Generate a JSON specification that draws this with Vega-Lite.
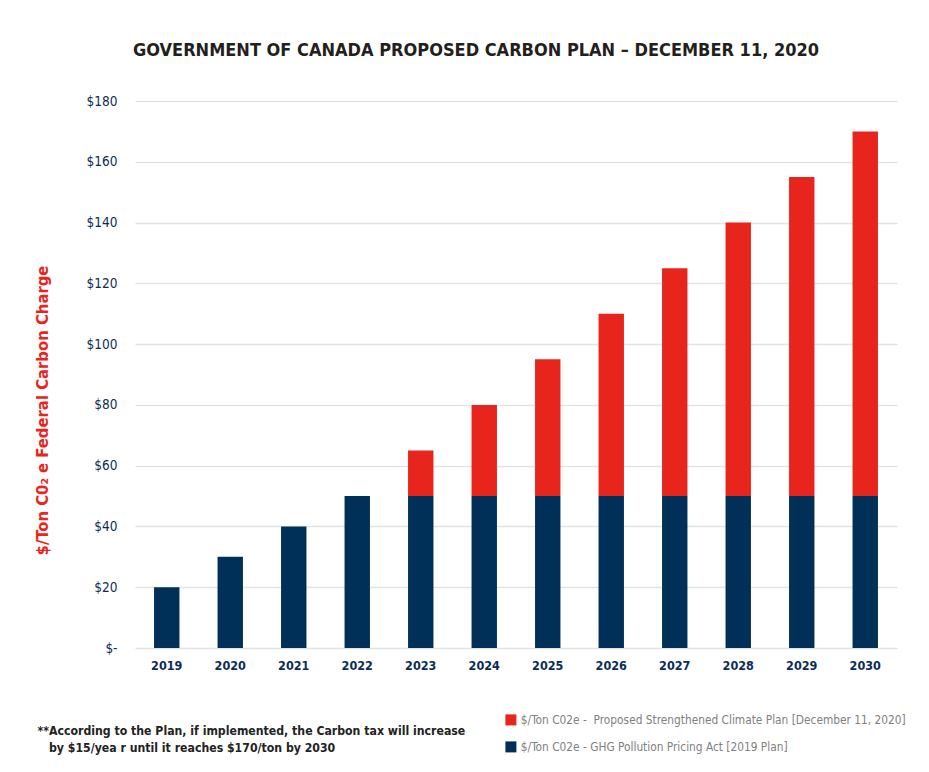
{
  "$schema": "https://vega.github.io/schema/vega-lite/v6.json",
  "autosize": {"type": "none"},
  "width": 762,
  "height": 547,
  "padding": {"left": 135, "top": 101, "right": 32, "bottom": 124},
  "background": "white",
  "config": {
    "view": {"stroke": null},
    "font": "DejaVu Sans Condensed, sans-serif"
  },
  "title": {
    "text": "GOVERNMENT OF CANADA PROPOSED CARBON PLAN – DECEMBER 11, 2020",
    "anchor": "middle",
    "dx": -40,
    "offset": 34,
    "fontSize": 18,
    "fontWeight": "bold",
    "color": "#231f20",
    "font": "DejaVu Sans Condensed, sans-serif"
  },
  "data": {
    "values": [
      {"year": "2019", "series": "$/Ton C02e - GHG Pollution Pricing Act [2019 Plan]", "ord": 0, "value": 20},
      {"year": "2020", "series": "$/Ton C02e - GHG Pollution Pricing Act [2019 Plan]", "ord": 0, "value": 30},
      {"year": "2021", "series": "$/Ton C02e - GHG Pollution Pricing Act [2019 Plan]", "ord": 0, "value": 40},
      {"year": "2022", "series": "$/Ton C02e - GHG Pollution Pricing Act [2019 Plan]", "ord": 0, "value": 50},
      {"year": "2023", "series": "$/Ton C02e - GHG Pollution Pricing Act [2019 Plan]", "ord": 0, "value": 50},
      {"year": "2024", "series": "$/Ton C02e - GHG Pollution Pricing Act [2019 Plan]", "ord": 0, "value": 50},
      {"year": "2025", "series": "$/Ton C02e - GHG Pollution Pricing Act [2019 Plan]", "ord": 0, "value": 50},
      {"year": "2026", "series": "$/Ton C02e - GHG Pollution Pricing Act [2019 Plan]", "ord": 0, "value": 50},
      {"year": "2027", "series": "$/Ton C02e - GHG Pollution Pricing Act [2019 Plan]", "ord": 0, "value": 50},
      {"year": "2028", "series": "$/Ton C02e - GHG Pollution Pricing Act [2019 Plan]", "ord": 0, "value": 50},
      {"year": "2029", "series": "$/Ton C02e - GHG Pollution Pricing Act [2019 Plan]", "ord": 0, "value": 50},
      {"year": "2030", "series": "$/Ton C02e - GHG Pollution Pricing Act [2019 Plan]", "ord": 0, "value": 50},
      {"year": "2023", "series": "$/Ton C02e -\u00a0 Proposed Strengthened Climate Plan [December 11, 2020]", "ord": 1, "value": 15},
      {"year": "2024", "series": "$/Ton C02e -\u00a0 Proposed Strengthened Climate Plan [December 11, 2020]", "ord": 1, "value": 30},
      {"year": "2025", "series": "$/Ton C02e -\u00a0 Proposed Strengthened Climate Plan [December 11, 2020]", "ord": 1, "value": 45},
      {"year": "2026", "series": "$/Ton C02e -\u00a0 Proposed Strengthened Climate Plan [December 11, 2020]", "ord": 1, "value": 60},
      {"year": "2027", "series": "$/Ton C02e -\u00a0 Proposed Strengthened Climate Plan [December 11, 2020]", "ord": 1, "value": 75},
      {"year": "2028", "series": "$/Ton C02e -\u00a0 Proposed Strengthened Climate Plan [December 11, 2020]", "ord": 1, "value": 90},
      {"year": "2029", "series": "$/Ton C02e -\u00a0 Proposed Strengthened Climate Plan [December 11, 2020]", "ord": 1, "value": 105},
      {"year": "2030", "series": "$/Ton C02e -\u00a0 Proposed Strengthened Climate Plan [December 11, 2020]", "ord": 1, "value": 120}
    ]
  },
  "mark": {"type": "bar"},
  "encoding": {
    "x": {
      "field": "year",
      "type": "ordinal",
      "scale": {"paddingInner": 0.6, "paddingOuter": 0.3},
      "axis": {
        "labelAngle": 0,
        "labelFontSize": 12.5,
        "labelFontWeight": "bold",
        "labelColor": "#0b2d55",
        "labelPadding": 11,
        "ticks": false,
        "domain": false,
        "title": ["**According to the Plan, if implemented, the Carbon tax will increase", "\u200b\u00a0\u00a0\u00a0by $15/yea r until it reaches $170/ton by 2030"],
        "titleAnchor": "start",
        "titleAlign": "left",
        "titleBaseline": "top",
        "titleX": -98,
        "titleY": 76,
        "titleFontSize": 12.2,
        "titleFontWeight": "bold",
        "titleColor": "#222222",
        "titleLineHeight": 17
      }
    },
    "y": {
      "field": "value",
      "type": "quantitative",
      "stack": "zero",
      "scale": {"domain": [0, 180]},
      "axis": {
        "values": [0, 20, 40, 60, 80, 100, 120, 140, 160, 180],
        "labelExpr": "datum.value == 0 ? '$-' : '$' + datum.value",
        "labelFontSize": 13.5,
        "labelColor": "#0b2d55",
        "labelPadding": 18,
        "ticks": false,
        "domain": false,
        "grid": true,
        "gridColor": "#e3e3e3",
        "gridWidth": 1.5,
        "title": "$/Ton C0₂ e Federal Carbon Charge",
        "titleColor": "#e8251d",
        "titleFontSize": 16.5,
        "titleFontWeight": "bold",
        "titleAngle": -90,
        "titleX": -93,
        "titleY": 309,
        "titleAlign": "center",
        "titleBaseline": "middle"
      }
    },
    "color": {
      "field": "series",
      "type": "nominal",
      "scale": {
        "domain": ["$/Ton C02e -\u00a0 Proposed Strengthened Climate Plan [December 11, 2020]", "$/Ton C02e - GHG Pollution Pricing Act [2019 Plan]"],
        "range": ["#e8251d", "#003057"]
      },
      "legend": {
        "title": null,
        "orient": "none",
        "legendX": 370,
        "legendY": 613,
        "direction": "vertical",
        "symbolType": "square",
        "symbolSize": 121,
        "symbolStrokeWidth": 0,
        "labelFontSize": 11.8,
        "labelColor": "#808080",
        "labelLimit": 500,
        "rowPadding": 14,
        "labelOffset": 4
      }
    },
    "order": {"field": "ord", "type": "quantitative"}
  }
}
